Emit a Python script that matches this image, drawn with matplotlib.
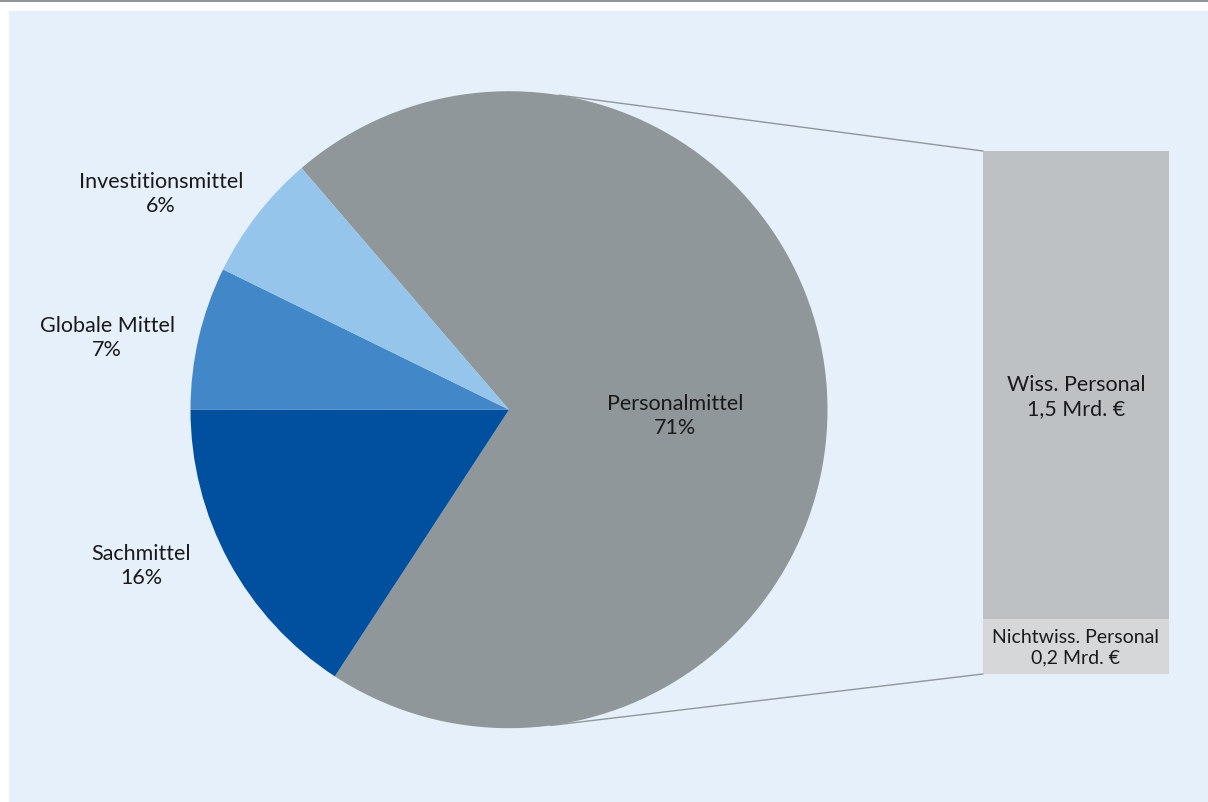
import numpy as np
import matplotlib
matplotlib.use("Agg")
import matplotlib.pyplot as plt
from matplotlib.patches import Rectangle, ConnectionPatch

# Budget shares (pie) and breakdown of Personalmittel (bar)
pie_labels = ["Personalmittel", "Sachmittel", "Globale Mittel", "Investitionsmittel"]
pie_values = [70.5, 15.8, 7.25, 6.45]
pie_texts = ["71%", "16%", "7%", "6%"]
pie_colors = ["#8f979a", "#00509f", "#4287c7", "#95c5eb"]

bar_labels = ["Nichtwiss. Personal", "Wiss. Personal"]
bar_values = [0.18, 1.52]
bar_texts = ["0,2 Mrd. €", "1,5 Mrd. €"]
bar_colors = ["#d5d7d9", "#bdc1c4"]

plt.rcParams['font.family'] = ['Lato', 'DejaVu Sans']
W, H = 1208, 803
fig = plt.figure(figsize=(W / 100, H / 100), dpi=100, facecolor="white")

# panel background and top rule
fig.patches.append(Rectangle((9 / W, 0), 1 - 9 / W, (H - 12) / H, transform=fig.transFigure,
                             facecolor="#e6f0fa", edgecolor="none", zorder=-10))
fig.patches.append(Rectangle((0, (H - 3) / H), 1, 3 / H, transform=fig.transFigure,
                             facecolor="#8f979a", edgecolor="none", zorder=-10))

# main axes in pixel units (y flipped by hand)
ax = fig.add_axes([0, 0, 1, 1])
ax.set_facecolor("none")
cx, cy, r = 509, H - 410.7, 318.5
ax.pie(pie_values, colors=pie_colors, startangle=130.65, counterclock=False,
       center=(cx, cy), radius=r, frame=True, wedgeprops=dict(linewidth=0))
ax.set_xlim(0, W)
ax.set_ylim(0, H)
ax.set_aspect("equal")
ax.axis("off")

txt_kw = dict(ha="center", va="center", color="#1a1a1a", linespacing=1.25)
label_pos = [(675, 416), (141, 566), (107, 338), (161, 194)]
for name, pct, (px, py) in zip(pie_labels, pie_texts, label_pos):
    ax.text(px, H - py, f"{name}\n{pct}", fontsize=15.5, **txt_kw)

# stacked bar for Personalmittel
bx = fig.add_axes([983 / W, (H - 675) / H, 186 / W, 523 / H])
bx.set_facecolor("none")
bottom = 0
for v, c in zip(bar_values, bar_colors):
    bx.bar(0, v, bottom=bottom, width=1, color=c, linewidth=0)
    bottom += v
bx.set_xlim(-0.5, 0.5)
bx.set_ylim(0, sum(bar_values))
bx.axis("off")

# labels on the bar (the small segment's label is set tighter, as in the original)
bar_pos = [(1076, 648), (1076, 397)]
bar_sizes = [14.0, 15.5]
for name, t, (px, py), fs in zip(bar_labels, bar_texts, bar_pos, bar_sizes):
    bx.text(px, H - py, f"{name}\n{t}", transform=ax.transData, fontsize=fs,
            zorder=5, **txt_kw)

# connector lines from pie to bar
for ang, yb in [(81.0, sum(bar_values)), (-82.5, 0)]:
    a = np.deg2rad(ang)
    con = ConnectionPatch(xyA=(cx + r * np.cos(a), cy + r * np.sin(a)), coordsA=ax.transData,
                          xyB=(-0.5, yb), coordsB=bx.transData,
                          color="#8f979a", linewidth=1.0)
    fig.add_artist(con)

fig.savefig("out.png", dpi=100, facecolor=fig.get_facecolor())
